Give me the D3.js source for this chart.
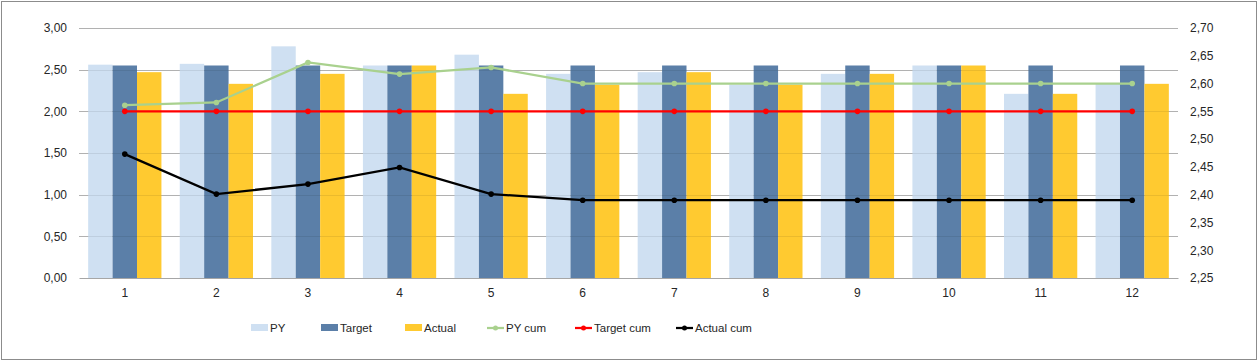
<!DOCTYPE html>
<html>
<head>
<meta charset="utf-8">
<script src="https://cdn.jsdelivr.net/npm/d3@7"></script>
<style>
  body { margin: 0; background: #fff; }
  svg text { font-family: "Liberation Sans", Arial, sans-serif; fill: #262626; }
</style>
</head>
<body>
<div id="chart"></div>
<script>
const months = ['1', '2', '3', '4', '5', '6', '7', '8', '9', '10', '11', '12'];
const py = [2.56, 2.57, 2.78, 2.55, 2.68, 2.45, 2.47, 2.32, 2.45, 2.55, 2.21, 2.33];
const target = [2.55, 2.55, 2.55, 2.55, 2.55, 2.55, 2.55, 2.55, 2.55, 2.55, 2.55, 2.55];
const actual = [2.47, 2.33, 2.45, 2.55, 2.21, 2.32, 2.47, 2.32, 2.45, 2.55, 2.21, 2.33];
const pyCum = [2.561, 2.566, 2.638, 2.617, 2.629, 2.60, 2.60, 2.60, 2.60, 2.60, 2.60, 2.60];
const targetCum = [2.55, 2.55, 2.55, 2.55, 2.55, 2.55, 2.55, 2.55, 2.55, 2.55, 2.55, 2.55];
const actualCum = [2.473, 2.401, 2.419, 2.449, 2.401, 2.39, 2.39, 2.39, 2.39, 2.39, 2.39, 2.39];
const leftTicks = [0, 0.5, 1, 1.5, 2, 2.5, 3];
const rightTicks = [2.25, 2.30, 2.35, 2.40, 2.45, 2.50, 2.55, 2.60, 2.65, 2.70];

const W = 1259, H = 362;
const margin = {top: 28, right: 81, bottom: 84, left: 79};
const width = W - margin.left - margin.right;
const height = H - margin.top - margin.bottom;

const fmt = d => d3.format('.2f')(d).replace('.', ',');

const svg = d3.select('#chart').append('svg')
    .attr('width', W)
    .attr('height', H);

// outer border
svg.append('rect')
    .attr('x', 1.5).attr('y', 1.5)
    .attr('width', W - 4).attr('height', H - 4)
    .attr('fill', 'none')
    .attr('stroke', '#8c8c8c');

const g = svg.append('g')
    .attr('transform', `translate(${margin.left},${margin.top})`);

const x = d3.scaleBand().domain(months).range([0, width]).paddingInner(0.2).paddingOuter(0.1);
const xSub = d3.scaleBand().domain(['py', 'target', 'actual']).range([0, x.bandwidth()]);
const yL = d3.scaleLinear().domain([0, 3]).range([height, 0]);
const yR = d3.scaleLinear().domain([2.25, 2.70]).range([height, 0]);

// gridlines behind bars
const gridY = d => Math.round(yL(d)) + 0.5;
g.selectAll('.grid')
    .data(leftTicks.slice(1))
    .enter()
    .append('line')
    .attr('x1', 0).attr('x2', width)
    .attr('y1', gridY).attr('y2', gridY)
    .attr('stroke', '#c0c0c0');

const barSeries = [
    {key: 'py', values: py, color: '#CFE0F2'},
    {key: 'target', values: target, color: '#5B7FA8'},
    {key: 'actual', values: actual, color: '#FFCA30'}
];

barSeries.forEach(s => {
    g.selectAll(null)
        .data(s.values)
        .enter()
        .append('rect')
        .attr('x', (d, i) => x(months[i]) + xSub(s.key))
        .attr('y', d => yL(d))
        .attr('width', xSub.bandwidth())
        .attr('height', d => height - yL(d))
        .attr('fill', s.color);
});

// faint gridlines showing through bars
g.selectAll('.grid2')
    .data(leftTicks.slice(1))
    .enter()
    .append('line')
    .attr('x1', 0).attr('x2', width)
    .attr('y1', gridY).attr('y2', gridY)
    .attr('stroke', '#000')
    .attr('stroke-opacity', 0.08);

// left axis
const axL = g.append('g')
    .call(d3.axisLeft(yL).tickValues(leftTicks).tickFormat(fmt).tickSize(0).tickPadding(12));
axL.select('.domain').remove();
axL.selectAll('text').style('font-size', '12px').style('fill', '#262626');

// right axis
const axR = g.append('g')
    .attr('transform', `translate(${width},0)`)
    .call(d3.axisRight(yR).tickValues(rightTicks).tickFormat(fmt).tickSize(0).tickPadding(12));
axR.select('.domain').remove();
axR.selectAll('text').style('font-size', '12px').style('fill', '#262626');

// bottom axis
const axB = g.append('g')
    .attr('transform', `translate(0,${height})`)
    .call(d3.axisBottom(x).tickSize(0).tickPadding(10));
axB.select('.domain').attr('stroke', '#a6a6a6');
axB.selectAll('text').style('font-size', '12px').style('fill', '#262626');

// lines
const lineSeries = [
    {name: 'PY cum', values: pyCum, color: '#A9D18E'},
    {name: 'Target cum', values: targetCum, color: '#FF0000'},
    {name: 'Actual cum', values: actualCum, color: '#000000'}
];

const line = d3.line()
    .x((d, i) => x(months[i]) + x.bandwidth() / 2)
    .y(d => yR(d));

lineSeries.forEach(s => {
    g.append('path')
        .datum(s.values)
        .attr('d', line)
        .attr('fill', 'none')
        .attr('stroke', s.color)
        .attr('stroke-width', 2.25);

    g.selectAll(null)
        .data(s.values)
        .enter()
        .append('circle')
        .attr('cx', (d, i) => x(months[i]) + x.bandwidth() / 2)
        .attr('cy', d => yR(d))
        .attr('r', 2.8)
        .attr('fill', s.color);
});

// legend
const legendItems = [
    {name: 'PY', color: '#CFE0F2', type: 'bar', x: 251},
    {name: 'Target', color: '#5B7FA8', type: 'bar', x: 321},
    {name: 'Actual', color: '#FFCA30', type: 'bar', x: 405},
    {name: 'PY cum', color: '#A9D18E', type: 'line', x: 487},
    {name: 'Target cum', color: '#FF0000', type: 'line', x: 575},
    {name: 'Actual cum', color: '#000000', type: 'line', x: 676}
];

const legend = svg.append('g').attr('transform', 'translate(0,328)');
legendItems.forEach(it => {
    const item = legend.append('g').attr('transform', `translate(${it.x},0)`);
    if (it.type === 'bar') {
        item.append('rect')
            .attr('x', 0).attr('y', -4)
            .attr('width', 17).attr('height', 7)
            .attr('fill', it.color);
    } else {
        item.append('line')
            .attr('x1', 0).attr('x2', 17)
            .attr('y1', 0).attr('y2', 0)
            .attr('stroke', it.color)
            .attr('stroke-width', 2.25);
        item.append('circle')
            .attr('cx', 8.5).attr('cy', 0)
            .attr('r', 2.5)
            .attr('fill', it.color);
    }
    item.append('text')
        .attr('x', 19)
        .attr('y', 4)
        .style('font-size', '11.5px')
        .text(it.name);
});
</script>
</body>
</html>
